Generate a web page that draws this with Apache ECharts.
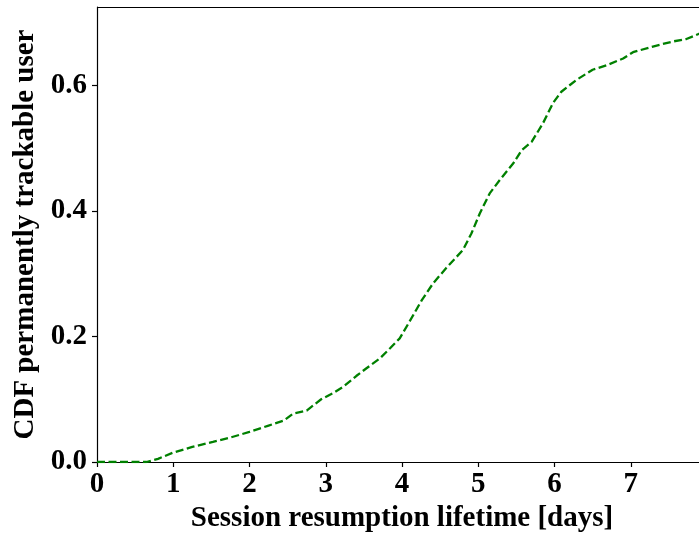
<!DOCTYPE html>
<html>
<head>
<meta charset="utf-8">
<script src="https://cdn.jsdelivr.net/npm/echarts@6/dist/echarts.min.js"></script>
<style>html,body{margin:0;padding:0;background:#fff;}#c{width:699px;height:533px;}</style>
</head>
<body>
<div id="c"></div>
<script>
const xValues = [0, 0.3, 0.65, 0.8, 1.0, 1.25, 1.52, 1.75, 2.0, 2.25, 2.45, 2.57, 2.75, 2.94, 3.1, 3.23, 3.4, 3.53, 3.71, 3.85, 3.97, 4.10, 4.26, 4.41, 4.58, 4.80, 4.91, 5.02, 5.15, 5.28, 5.46, 5.57, 5.70, 5.85, 5.98, 6.09, 6.29, 6.50, 6.68, 6.90, 7.03, 7.29, 7.55, 7.73, 7.89, 8.0];
const cdfValues = [0, 0, 0, 0.005, 0.015, 0.024, 0.032, 0.039, 0.048, 0.058, 0.066, 0.077, 0.082, 0.1, 0.11, 0.12, 0.137, 0.149, 0.165, 0.182, 0.197, 0.224, 0.258, 0.285, 0.309, 0.338, 0.364, 0.396, 0.428, 0.449, 0.476, 0.497, 0.510, 0.540, 0.572, 0.590, 0.609, 0.625, 0.632, 0.643, 0.653, 0.662, 0.670, 0.674, 0.682, 0.685];
const xTicks = [0, 1, 2, 3, 4, 5, 6, 7];
const yTicks = [0, 0.2, 0.4, 0.6];

const font = 'Liberation Serif';
const fs = 29;
const chart = echarts.init(document.getElementById('c'), null, {renderer: 'canvas'});
chart.setOption({
  animation: false,
  grid: {left: 97, right: -8, top: 7, bottom: 71, containLabel: false, outerBoundsMode: 'none'},
  xAxis: {
    type: 'value', min: 0, max: 8, interval: 1,
    name: 'Session resumption lifetime [days]',
    nameLocation: 'middle', nameGap: 41,
    nameTextStyle: {fontFamily: font, fontWeight: 'bold', fontSize: fs, color: '#000'},
    axisLine: {show: true, onZero: false, lineStyle: {color: '#000', width: 1.2}},
    axisTick: {show: true, length: 5, lineStyle: {color: '#000', width: 1.2}, customValues: xTicks},
    axisLabel: {fontFamily: font, fontWeight: 'bold', fontSize: fs, color: '#000', margin: 8, customValues: xTicks, formatter: v => String(v)},
    splitLine: {show: false}
  },
  yAxis: {
    type: 'value', min: 0, max: 0.725,
    name: 'CDF permanently trackable user',
    nameLocation: 'middle', nameGap: 56, nameRotate: 90,
    nameTextStyle: {fontFamily: font, fontWeight: 'bold', fontSize: fs, color: '#000'},
    axisLine: {show: true, onZero: false, lineStyle: {color: '#000', width: 1.2}},
    axisTick: {show: true, length: 5, lineStyle: {color: '#000', width: 1.2}, customValues: yTicks},
    axisLabel: {fontFamily: font, fontWeight: 'bold', fontSize: fs, color: '#000', margin: 10, customValues: yTicks, formatter: v => v.toFixed(1)},
    splitLine: {show: false}
  },
  series: [{
    type: 'line',
    data: xValues.map((x, i) => [x, cdfValues[i]]),
    showSymbol: false,
    smooth: false,
    clip: true,
    lineStyle: {color: '#008000', width: 2.3, type: [8, 3.5]}
  }],
  graphic: [{
    type: 'line', shape: {x1: 97, y1: 7.5, x2: 699, y2: 7.5},
    style: {stroke: '#000', lineWidth: 1.2}, silent: true
  }]
});
</script>
</body>
</html>
